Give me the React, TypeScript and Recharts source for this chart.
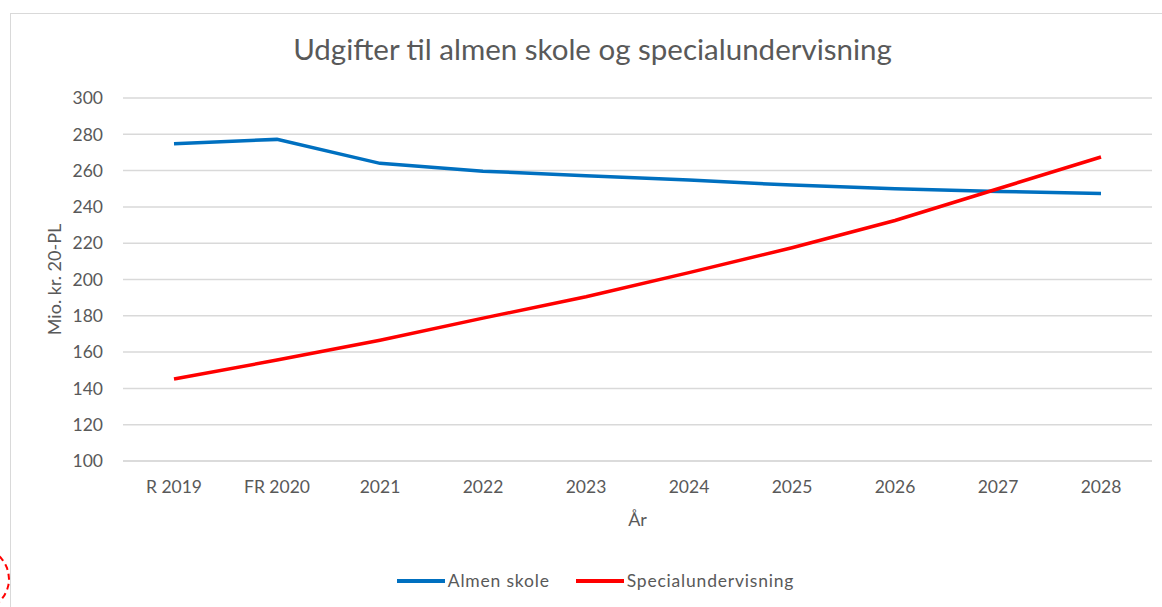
import React from "react";
import { LineChart, Line, XAxis, YAxis, CartesianGrid, Legend, Label } from "recharts";

const categories = ["R 2019", "FR 2020", "2021", "2022", "2023", "2024", "2025", "2026", "2027", "2028"];
const almenSkole = [274.8, 277.2, 264.0, 259.7, 257.2, 254.8, 252.0, 250.0, 248.5, 247.4];
const specialundervisning = [145.2, 155.6, 166.5, 178.7, 190.5, 203.8, 217.5, 232.5, 250.0, 267.5];
const yTicks = [100, 120, 140, 160, 180, 200, 220, 240, 260, 280, 300];

const data = categories.map((c, i) => ({
  name: c,
  almen: almenSkole[i],
  special: specialundervisning[i],
}));

const FONT = "Lato, 'Open Sans', sans-serif";
const TXT = "#595959";

const LegendContent = (props: any) => {
  const { payload } = props;
  return (
    <div style={{ display: "flex", justifyContent: "center", alignItems: "center", fontFamily: FONT, fontSize: 17.5, letterSpacing: 0.8, color: TXT }}>
      {payload.map((p: any, i: number) => (
        <div key={i} style={{ display: "flex", alignItems: "center", marginLeft: i === 0 ? 0 : 26 }}>
          <svg width={48} height={6} style={{ marginRight: 3 }}>
            <line x1={0} y1={3} x2={48} y2={3} stroke={p.color} strokeWidth={4} />
          </svg>
          <span>{p.value}</span>
        </div>
      ))}
    </div>
  );
};

export default function App() {
  return (
    <div style={{ position: "absolute", left: 0, top: 0, width: 1162, height: 607, overflow: "hidden", background: "#fff" }}>
      <div style={{ position: "absolute", left: 10, top: 13, width: 1200, height: 700, border: "1px solid #d9d9d9" }} />
      <div
        style={{
          position: "absolute",
          left: -48,
          top: 548,
          width: 54,
          height: 58,
          borderRadius: "50%",
          border: "2.5px dashed #ff0000",
        }}
      />
      <div style={{ position: "absolute", left: 0, top: 31, width: 1185, textAlign: "center", fontFamily: FONT, fontSize: 29.5, color: TXT }}>
        Udgifter til almen skole og specialundervisning
      </div>
      <div style={{ position: "absolute", left: 0, top: 0 }}>
        <LineChart width={1162} height={607} data={data} margin={{ top: 98, right: 10, bottom: 0, left: 60 }}>
          <CartesianGrid horizontal={true} vertical={false} stroke="#d9d9d9" strokeWidth={1.5} />
          <XAxis
            dataKey="name"
            axisLine={{ stroke: "#d9d9d9", strokeWidth: 1.5 }}
            tickLine={false}
            tickSize={0}
            tickMargin={20}
            height={80}
            padding={{ left: 51, right: 51 }}
            interval={0}
            tick={{ fill: TXT, fontSize: 17.5, fontFamily: FONT }}
          >
            <Label value="År" position="insideTop" offset={52} style={{ fill: TXT, fontSize: 18, fontFamily: FONT }} />
          </XAxis>
          <YAxis
            domain={[100, 300]}
            ticks={yTicks}
            axisLine={false}
            tickLine={false}
            tickSize={0}
            tickMargin={20}
            width={63}
            interval={0}
            tick={{ fill: TXT, fontSize: 17.5, fontFamily: FONT }}
          >
            <Label
              value="Mio. kr. 20-PL"
              angle={-90}
              position="center"
              dx={-37}
              style={{ fill: TXT, fontSize: 18, fontFamily: FONT, textAnchor: "middle" }}
            />
          </YAxis>
          <Legend verticalAlign="bottom" height={66} wrapperStyle={{ top: 570, left: 0, width: 1191 }} content={<LegendContent />} />
          <Line type="linear" dataKey="almen" name="Almen skole" stroke="#0070c0" strokeWidth={3.5} dot={false} isAnimationActive={false} />
          <Line type="linear" dataKey="special" name="Specialundervisning" stroke="#ff0000" strokeWidth={3.5} dot={false} isAnimationActive={false} />
        </LineChart>
      </div>
    </div>
  );
}
